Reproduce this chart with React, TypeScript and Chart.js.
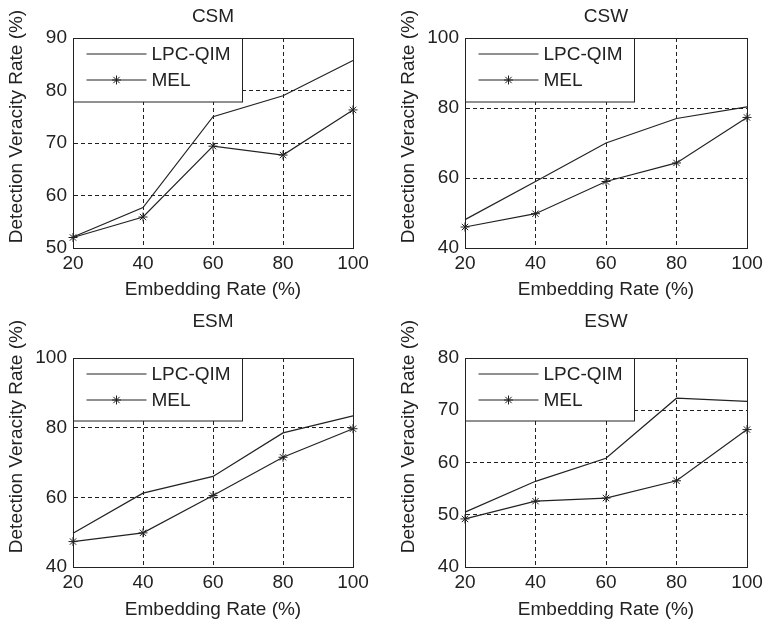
import React, { useEffect, useRef } from 'react';
import { Chart, registerables } from 'chart.js';

Chart.register(...registerables);

// ---------- data ----------
const embeddingRates = [20, 40, 60, 80, 100];
const seriesNames = ['LPC-QIM', 'MEL'];
const panelTitles = ['CSM', 'CSW', 'ESM', 'ESW'];

const csmLpcQim = [52.1, 57.7, 75.0, 79.0, 85.7];
const csmMel = [52.0, 55.9, 69.4, 67.7, 76.3];
const cswLpcQim = [48.1, 59.0, 70.0, 77.0, 80.3];
const cswMel = [46.0, 49.8, 59.0, 64.3, 77.3];
const esmLpcQim = [49.7, 61.2, 66.0, 78.5, 83.4];
const esmMel = [47.3, 49.8, 60.5, 71.5, 79.7];
const eswLpcQim = [50.5, 56.4, 60.8, 72.3, 71.7];
const eswMel = [49.2, 52.6, 53.2, 56.5, 66.3];

const csmYTicks = [50, 60, 70, 80, 90];
const cswYTicks = [40, 60, 80, 100];
const esmYTicks = [40, 60, 80, 100];
const eswYTicks = [40, 50, 60, 70, 80];

const xTitle = 'Embedding Rate (%)';
const yTitle = 'Detection Veracity Rate (%)';

// ---------- style ----------
const FONT = "'Liberation Sans', Arial, Helvetica, sans-serif";
const INK = '#222';
const FS = 19;

function drawStar(ctx: CanvasRenderingContext2D, x: number, y: number, r: number) {
  const d = Math.cos(Math.PI / 4) * r;
  ctx.beginPath();
  ctx.moveTo(x - d, y - d); ctx.lineTo(x + d, y + d);
  ctx.moveTo(x - d, y + d); ctx.lineTo(x + d, y - d);
  ctx.moveTo(x - r, y); ctx.lineTo(x + r, y);
  ctx.moveTo(x, y - r); ctx.lineTo(x, y + r);
  ctx.stroke();
}

const panelDecor = {
  id: 'panelDecor',
  beforeDatasetsDraw(chart: any) {
    const { ctx, chartArea: a } = chart;
    ctx.save();
    ctx.strokeStyle = INK;
    ctx.lineWidth = 1;
    ctx.setLineDash([]);
    ctx.strokeRect(Math.round(a.left) + 0.5, Math.round(a.top) + 0.5,
      Math.round(a.right) - Math.round(a.left), Math.round(a.bottom) - Math.round(a.top));
    ctx.restore();
  },
  afterDatasetsDraw(chart: any, _args: any, opts: any) {
    const { ctx, chartArea: a } = chart;
    const L = Math.round(a.left) + 0.5;
    const T = Math.round(a.top) + 0.5;
    ctx.save();
    ctx.setLineDash([]);
    // legend box
    ctx.fillStyle = '#fff';
    ctx.fillRect(L, T, 169, opts.legendH);
    ctx.strokeStyle = INK;
    ctx.lineWidth = 1;
    ctx.strokeRect(L, T, 169, opts.legendH);
    const rows = [T + 15.5, T + 41.5];
    chart.data.datasets.forEach((ds: any, i: number) => {
      const y = rows[i];
      ctx.strokeStyle = INK;
      ctx.lineWidth = 1.2;
      ctx.beginPath();
      ctx.moveTo(L + 13, y);
      ctx.lineTo(L + 73, y);
      ctx.stroke();
      if (ds.pointStyle === 'star') {
        ctx.lineWidth = 1;
        drawStar(ctx, L + 43, y, 4.5);
      }
      ctx.fillStyle = INK;
      ctx.font = `${FS}px ${FONT}`;
      ctx.textAlign = 'left';
      ctx.textBaseline = 'middle';
      ctx.fillText(ds.label, L + 78, y + 1);
    });
    // y axis title
    ctx.translate(a.left - 56.5, 126.5);
    ctx.rotate(-Math.PI / 2);
    ctx.fillStyle = INK;
    ctx.font = `${FS}px ${FONT}`;
    ctx.textAlign = 'center';
    ctx.textBaseline = 'middle';
    ctx.fillText(yTitle, 0, 0);
    ctx.restore();
  },
};

type Box = {
  left: number; top: number; width: number; height: number;
  yW: number; xH: number; rightPad: number;
  titleTop: number; titleBottom: number; xTitleBottom: number; legendH: number;
};

function Panel({ title, lpc, mel, yTicks, box }: { title: string; lpc: number[]; mel: number[]; yTicks: number[]; box: Box }) {
  const ref = useRef<HTMLCanvasElement | null>(null);
  useEffect(() => {
    if (!ref.current) return;
    const font = { family: FONT, size: FS, weight: 'normal' as const };
    const chart = new Chart(ref.current, {
      type: 'line',
      data: {
        datasets: [
          {
            label: seriesNames[0],
            data: embeddingRates.map((x, i) => ({ x, y: lpc[i] })),
            borderColor: INK,
            borderWidth: 1.2,
            pointRadius: 0,
            fill: false,
            tension: 0,
            clip: false as any,
          },
          {
            label: seriesNames[1],
            data: embeddingRates.map((x, i) => ({ x, y: mel[i] })),
            borderColor: INK,
            borderWidth: 1.2,
            pointStyle: 'star',
            pointRadius: 4.5,
            pointBorderColor: INK,
            pointBackgroundColor: INK,
            pointBorderWidth: 1,
            fill: false,
            tension: 0,
            clip: false as any,
          },
        ],
      },
      options: {
        animation: false,
        responsive: false,
        devicePixelRatio: 1,
        layout: { padding: { left: 0, top: 0, right: box.rightPad, bottom: 0 } },
        plugins: {
          legend: { display: false },
          tooltip: { enabled: false },
          title: {
            display: true,
            text: title,
            fullSize: false,
            color: INK,
            font,
            padding: { top: box.titleTop, bottom: box.titleBottom },
          },
          panelDecor: { legendH: box.legendH },
        } as any,
        scales: {
          x: {
            type: 'linear',
            min: embeddingRates[0],
            max: embeddingRates[embeddingRates.length - 1],
            afterBuildTicks: (s: any) => { s.ticks = embeddingRates.map((v) => ({ value: v })); },
            afterFit: (s: any) => { s.height = box.xH; s.paddingLeft = 0; s.paddingRight = 0; },
            ticks: { color: INK, font, padding: 4, maxRotation: 0, autoSkip: false },
            grid: { drawTicks: false, color: INK, lineWidth: 1 },
            border: { display: true, color: INK, dash: [4, 3] },
            title: { display: true, text: xTitle, color: INK, font, padding: { top: 0, bottom: box.xTitleBottom } },
          },
          y: {
            type: 'linear',
            min: yTicks[0],
            max: yTicks[yTicks.length - 1],
            afterBuildTicks: (s: any) => { s.ticks = yTicks.map((v) => ({ value: v })); },
            afterFit: (s: any) => { s.width = box.yW; s.paddingTop = 0; s.paddingBottom = 0; },
            ticks: { color: INK, font, padding: 6, autoSkip: false },
            grid: { drawTicks: false, color: INK, lineWidth: 1 },
            border: { display: true, color: INK, dash: [4, 3] },
          },
        },
      } as any,
      plugins: [panelDecor as any],
    });
    return () => chart.destroy();
  }, []);
  return (
    <canvas
      ref={ref}
      width={box.width}
      height={box.height}
      style={{ position: 'absolute', left: box.left, top: box.top, width: box.width, height: box.height }}
    />
  );
}

const topBox = { top: 0, height: 310, yW: 73, xH: 62, titleTop: 5.3, titleBottom: 9.9, xTitleBottom: 8.6, legendH: 63.5 };
const botBox = { top: 310, height: 311, yW: 73, xH: 54, titleTop: 0.3, titleBottom: 24.9, xTitleBottom: 0, legendH: 62.5 };
const leftCol = { left: 0, width: 381, rightPad: 28 };
const rightCol = { left: 392, width: 371, rightPad: 16 };

export default function App() {
  return (
    <div style={{ position: 'fixed', left: 0, top: 0, width: 763, height: 621, overflow: 'hidden', background: '#fff' }}>
      <Panel title={panelTitles[0]} lpc={csmLpcQim} mel={csmMel} yTicks={csmYTicks} box={{ ...topBox, ...leftCol }} />
      <Panel title={panelTitles[1]} lpc={cswLpcQim} mel={cswMel} yTicks={cswYTicks} box={{ ...topBox, ...rightCol }} />
      <Panel title={panelTitles[2]} lpc={esmLpcQim} mel={esmMel} yTicks={esmYTicks} box={{ ...botBox, ...leftCol }} />
      <Panel title={panelTitles[3]} lpc={eswLpcQim} mel={eswMel} yTicks={eswYTicks} box={{ ...botBox, ...rightCol }} />
    </div>
  );
}
